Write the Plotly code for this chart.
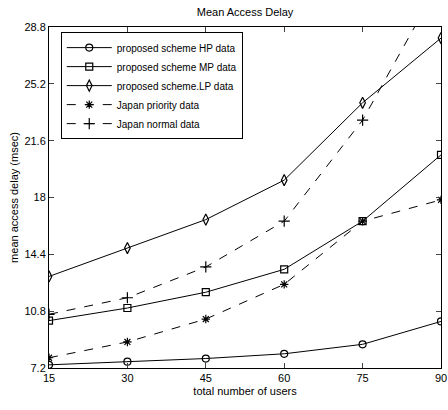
import plotly.graph_objects as go

users = [15, 30, 45, 60, 75, 90]
hp_data = [7.4, 7.6, 7.8, 8.1, 8.7, 10.15]
mp_data = [10.2, 11.0, 12.0, 13.45, 16.5, 20.7]
lp_data = [13.0, 14.8, 16.6, 19.1, 24.0, 28.1]
japan_priority = [7.85, 8.85, 10.3, 12.5, 16.5, 17.85]
japan_normal = [10.6, 11.65, 13.6, 16.5, 22.9, 31.8]

y_ticks = [7.2, 10.8, 14.4, 18, 21.6, 25.2, 28.8]
y_ticklabels = ["7.2", "10.8", "14.4", "18", "21.6", "25.2", "28.8"]
x_ticks = [15, 30, 45, 60, 75, 90]

series = [
    ("proposed scheme HP data", hp_data, "circle-open", "solid", 7),
    ("proposed scheme MP data", mp_data, "square-open", "solid", 7),
    ("proposed scheme.LP data", lp_data, "diamond-tall-open", "solid", 8),
    ("Japan priority data", japan_priority, "asterisk-open", "dash", 7),
    ("Japan normal data", japan_normal, "cross-thin-open", "dash", 8),
]

fig = go.Figure()
for name, vals, sym, dash, size in series:
    fig.add_trace(go.Scatter(
        x=users, y=vals, name=name, mode="lines+markers",
        line=dict(color="black", width=1, dash=dash),
        marker=dict(symbol=sym, size=size, color="black",
                    line=dict(color="black", width=1.2)),
        cliponaxis=True,
    ))

font = "Liberation Sans, Arial, sans-serif"
fig.update_layout(
    template="none",
    width=448, height=410,
    margin=dict(l=49, r=7, t=27, b=42),
    paper_bgcolor="white", plot_bgcolor="white",
    font=dict(family=font, size=11, color="black"),
    title=dict(text="Mean Access Delay", xref="container", x=0.547,
               xanchor="center", yref="container", y=0.98, yanchor="top",
               font=dict(size=11)),
    showlegend=True,
    legend=dict(x=0.03, y=0.985, xanchor="left", yanchor="top",
                bgcolor="white", bordercolor="black", borderwidth=1,
                font=dict(size=10), tracegroupgap=0, itemwidth=45),
)
fig.update_xaxes(
    range=[15, 90], tickvals=x_ticks, ticks="inside", ticklen=5,
    ticklabeloverflow="allow",
    showgrid=False, zeroline=False, showline=True, linecolor="black",
    linewidth=1, mirror="ticks", automargin=False,
    title=dict(text="total number of users", standoff=4, font=dict(size=11)),
)
fig.update_yaxes(
    range=[7.2, 28.8], tickvals=y_ticks, ticktext=y_ticklabels,
    ticks="inside", ticklen=5, ticklabeloverflow="allow",
    showgrid=False, zeroline=False, showline=True, linecolor="black",
    linewidth=1, mirror="ticks", automargin=False,
    title=dict(text="mean access delay (msec)", standoff=3, font=dict(size=11)),
)
fig.write_html(
    "out.html",
    config={"displayModeBar": False},
    post_script="document.body.style.margin='0';document.body.style.overflow='hidden';",
)
